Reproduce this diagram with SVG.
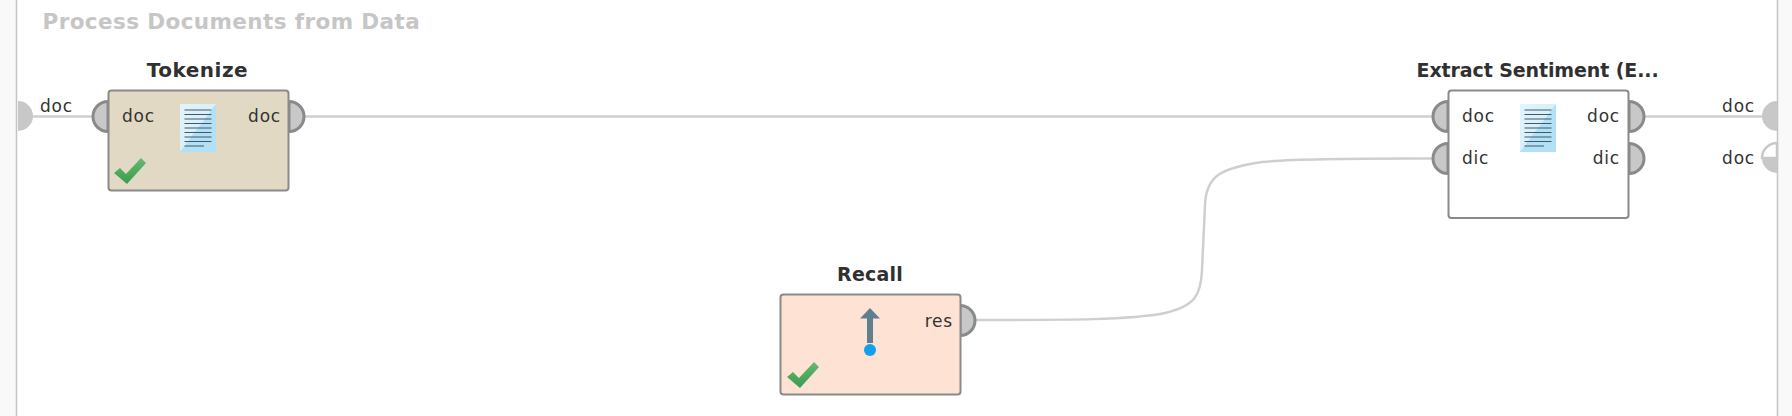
<svg xmlns="http://www.w3.org/2000/svg" width="1792" height="416" viewBox="0 0 1792 416">
<style>
text{font-family:"DejaVu Sans","Liberation Sans",sans-serif}
.t{font-size:17px;fill:#333;letter-spacing:.8px}
.h{font-size:19px;font-weight:bold;fill:#303030;text-anchor:middle}
.e{text-anchor:end}
.box{stroke:#8a8a8a;stroke-width:2}
.port{fill:#c8c8c8;stroke:#8a8a8a;stroke-width:3}
.outer{fill:#c8c8c8}
.wire{fill:none;stroke:#cfcfcf;stroke-width:2.5}
.ln{stroke:#3f5a68;stroke-width:1.2}
</style>
<defs>
<linearGradient id="page" x1="0" y1="0" x2="1" y2="1"><stop offset="0" stop-color="#e4f4fc"/><stop offset=".5" stop-color="#d8effa"/><stop offset=".5" stop-color="#b2e0f7"/><stop offset="1" stop-color="#b2e0f7"/></linearGradient>
<linearGradient id="green" x1="0" y1="0" x2="0" y2="1"><stop offset="0" stop-color="#66b874"/><stop offset="1" stop-color="#3a9c4b"/></linearGradient>
<filter id="soft" x="-10%" y="-10%" width="120%" height="120%"><feGaussianBlur stdDeviation=".5"/></filter>
<g id="doc"><rect x="0" y="0" width="36" height="48" fill="url(#page)"/>
<path class="ln" d="M4.500 6H31.500M4.500 10.500H31.500M4.500 15H31.500M4.500 19.500H31.500M4.500 24H31.500M4.500 28.500H31.500M4.500 33H31.500M4.500 37.500H31.500M4.500 42H24"/></g>
<path id="check" fill="url(#green)" filter="url(#soft)" d="M0 15L6 10L12 16L27 0L32 5L13 26Z"/>
</defs>
<rect x="0" y="0" width="1792" height="416" fill="#fff"/>
<rect x="0" y="0" width="16" height="416" fill="#f9f9f9"/>
<rect x="1778" y="0" width="14" height="416" fill="#f9f9f9"/>
<path d="M16.500 0V416M1777.500 0V416" stroke="#c4c4c4" stroke-width="1.500" fill="none"/>
<text id="title" x="42.500" y="29" fill="#c6c6c6" font-weight="bold" style="font-size:21.500px;letter-spacing:.4px">Process Documents from Data</text>
<g id="connectors">
<path class="wire" d="M33 116.500H95"/>
<path class="wire" d="M303 116.500H1435"/>
<path class="wire" d="M1643 116.500H1762"/>
<path class="wire" d="M975 320C1070 320 1130 320 1165 313C1195 306 1201 295 1202 270L1205 205C1206 175 1222 168 1262 162C1300 158 1380 158.500 1435 158.500"/>
</g>
<g id="input-doc"><path class="outer" d="M18 101A15 15 0 0 1 18 131Z"/><text class="t" x="40" y="112">doc</text></g>
<g id="output-doc-1"><path class="outer" d="M1777 101A15 15 0 0 0 1777 131Z"/><text class="t e" x="1755" y="112">doc</text></g>
<g id="output-doc-2"><path d="M1777 143A15 15 0 0 0 1762 158H1777Z" fill="#fff" stroke="#c8c8c8" stroke-width="2.500"/><path class="outer" d="M1762 158A15 15 0 0 0 1777 173V158Z"/><text class="t e" x="1755" y="164">doc</text></g>
<g id="tokenize">
<text class="h" x="197.500" y="77" style="font-size:20px;letter-spacing:.5px">Tokenize</text>
<path class="port" d="M108 101.500A15 15 0 0 0 108 131.500Z"/>
<path class="port" d="M289 101.500A15 15 0 0 1 289 131.500Z"/>
<rect class="box" x="108.500" y="90.500" width="180" height="100" rx="3" fill="#e2d9c5"/>
<text class="t" x="122" y="122">doc</text><text class="t e" x="281" y="122">doc</text>
<use href="#doc" x="180" y="104"/>
<use href="#check" x="114" y="158"/>
</g>
<g id="extract">
<text class="h" x="1416.500" y="77" style="text-anchor:start;letter-spacing:-.1px">Extract Sentiment (E...</text>
<path class="port" d="M1448 101.500A15 15 0 0 0 1448 131.500Z"/>
<path class="port" d="M1448 143.500A15 15 0 0 0 1448 173.500Z"/>
<path class="port" d="M1629 101.500A15 15 0 0 1 1629 131.500Z"/>
<path class="port" d="M1629 143.500A15 15 0 0 1 1629 173.500Z"/>
<rect class="box" x="1448.500" y="90.500" width="180" height="127.500" rx="3" fill="#fff"/>
<text class="t" x="1462" y="122">doc</text><text class="t" x="1462" y="164">dic</text>
<text class="t e" x="1620" y="122">doc</text><text class="t e" x="1620" y="164">dic</text>
<use href="#doc" x="1520" y="104"/>
</g>
<g id="recall">
<text class="h" x="870" y="281" style="letter-spacing:.2px">Recall</text>
<path class="port" d="M960 305.500A15 15 0 0 1 960 335.500Z"/>
<rect class="box" x="780.500" y="294.500" width="180" height="100" rx="3" fill="#fee2d4"/>
<text class="t e" x="953" y="326.500">res</text>
<path d="M870 308L880 318.500H873V343H867V318.500H860Z" fill="#5f7f90"/>
<circle cx="870" cy="350" r="6" fill="#12a0ee"/>
<use href="#check" x="787" y="362"/>
</g>
</svg>
